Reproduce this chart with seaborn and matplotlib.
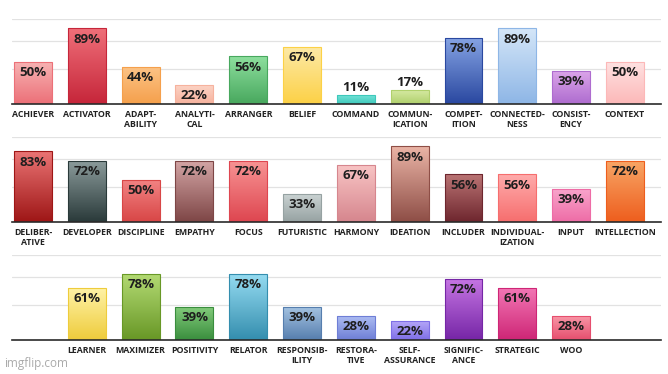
"""StrengthsFinder theme percentages, three rows of gradient bars"""

import matplotlib

matplotlib.use("Agg")
import matplotlib.pyplot as plt
import numpy as np
import pandas as pd
import seaborn as sns
from matplotlib.colors import to_rgb

# %% Data

row1_names = ["ACHIEVER", "ACTIVATOR", "ADAPT-\nABILITY", "ANALYTI-\nCAL", "ARRANGER", "BELIEF",
              "COMMAND", "COMMUN-\nICATION", "COMPET-\nITION", "CONNECTED-\nNESS", "CONSIST-\nENCY", "CONTEXT"]
row1_values = [50, 89, 44, 22, 56, 67, 11, 17, 78, 89, 39, 50]
row1_top = ["#f7b4b4", "#ef6f79", "#fcc487", "#fcd3c4", "#8edf9e", "#fde9a6",
            "#79e6da", "#d8eba6", "#86a4e4", "#d4e6f8", "#dca6ea", "#ffe3e3"]
row1_bottom = ["#ec7078", "#c6263a", "#f5a04c", "#f6b29e", "#48a85e", "#fcd146",
               "#3ec8bb", "#b0d06c", "#2a48a0", "#8eb6e6", "#ae6ccf", "#fcb8b8"]

row2_names = ["DELIBER-\nATIVE", "DEVELOPER", "DISCIPLINE", "EMPATHY", "FOCUS", "FUTURISTIC",
              "HARMONY", "IDEATION", "INCLUDER", "INDIVIDUAL-\nIZATION", "INPUT", "INTELLECTION"]
row2_values = [83, 72, 50, 72, 72, 33, 67, 89, 56, 56, 39, 72]
row2_top = ["#ea7474", "#8c9c9c", "#f28484", "#d4a6a6", "#f89494", "#ccd4d4",
            "#f8c4c4", "#eab4a6", "#ba7474", "#ffacac", "#f8a6cc", "#f8a666"]
row2_bottom = ["#9e1616", "#2a3a3a", "#d84646", "#7e4646", "#de4650", "#96a2a2",
               "#d6868e", "#8e4e46", "#6e262e", "#f66e6e", "#ee6ca6", "#ee5e1e"]

row3_names = ["LEARNER", "MAXIMIZER", "POSITIVITY", "RELATOR", "RESPONSIB-\nILITY", "RESTORA-\nTIVE",
              "SELF-\nASSURANCE", "SIGNIFIC-\nANCE", "STRATEGIC", "WOO"]
row3_values = [61, 78, 39, 78, 39, 28, 22, 72, 61, 28]
row3_top = ["#fff2a6", "#b4da74", "#84cc7c", "#96dcf2", "#a6c4e2", "#acbcf2",
            "#b4a6f8", "#c676e4", "#f276b4", "#f896a6"]
row3_bottom = ["#eecc3c", "#689826", "#3a8e3e", "#348eae", "#567eae", "#6e7ed6",
               "#7e6ee6", "#7626a6", "#ce2676", "#e64e6e"]

rows = [
    (row1_names, row1_values, row1_top, row1_bottom, []),
    (row2_names, row2_values, row2_top, row2_bottom, []),
    # 第三行两端各空一个位置
    (row3_names, row3_values, row3_top, row3_bottom, [" ", "  "]),
]

# %% Plot

sns.set_theme(style="white")
plt.rcParams["font.family"] = ["Open Sans", "DejaVu Sans"]

fig = plt.figure(figsize=(6.68, 3.74), dpi=100)
axes_bottoms = [0.7219, 0.4064, 0.0909]

for (names, values, tops, bottoms, pads), bottom in zip(rows, axes_bottoms):
    ax = fig.add_axes([0.018, bottom, 0.9715, 0.2273])
    data = pd.DataFrame({"theme": names, "pct": values})
    order = [pads[0]] + names + [pads[1]] if pads else names
    sns.barplot(data, x="theme", y="pct", order=order, hue="theme",
                palette=dict(zip(names, bottoms)), legend=False, width=0.706,
                saturation=1, ax=ax)

    grad = np.linspace(0, 1, 64)[:, None, None]
    for p in ax.patches:
        x0, w, h = p.get_x(), p.get_width(), p.get_height()
        i = names.index(order[int(round(x0 + w / 2))])
        img = (1 - grad) * np.array(to_rgb(bottoms[i])) + grad * np.array(to_rgb(tops[i]))
        img = np.repeat(img, 2, axis=1)
        im = ax.imshow(img, extent=(x0, x0 + w, 0, h), origin="lower", aspect="auto",
                       interpolation="bilinear", zorder=2)
        im.set_clip_path(p)
        p.set_facecolor("none")
        p.set_edgecolor(bottoms[i])
        p.set_linewidth(0.8)
        p.set_zorder(3)

        val = values[i]
        if val < 20:
            ax.annotate(f"{val}%", (x0 + w / 2, h), xytext=(0, 0.5), textcoords="offset points",
                        ha="center", va="bottom", fontsize=9.5, fontweight="bold", color="#1e1e1e",
                        zorder=4)
        else:
            ax.annotate(f"{val}%", (x0 + w / 2, h), xytext=(0, -3), textcoords="offset points",
                        ha="center", va="top", fontsize=9.5, fontweight="bold", color="#1e1e1e",
                        zorder=4)

    ax.set_xlim(-0.39, 11.67)
    ax.set_ylim(0, 100)
    ax.set_xticks(range(len(order)))
    ax.set_xticklabels(order, fontsize=6.3, fontweight="bold", color="#222222", linespacing=1.15)
    ax.set_yticks([41, 74, 100])
    ax.set_yticklabels([])
    ax.set(xlabel="", ylabel="")
    ax.tick_params(axis="both", length=0)
    ax.tick_params(axis="x", pad=4)
    ax.grid(axis="y", color="#e2e2e2", linewidth=0.9)
    ax.set_axisbelow(True)
    for side in ["left", "right", "top"]:
        ax.spines[side].set_visible(False)
    ax.spines["bottom"].set_color("#2a2a2a")
    ax.spines["bottom"].set_linewidth(1.2)
    ax.spines["bottom"].set_zorder(5)

fig.text(0.006, 0.018, "imgflip.com", fontsize=8.5, color="#aaaaaa")

fig.savefig("out.png", dpi=100)
